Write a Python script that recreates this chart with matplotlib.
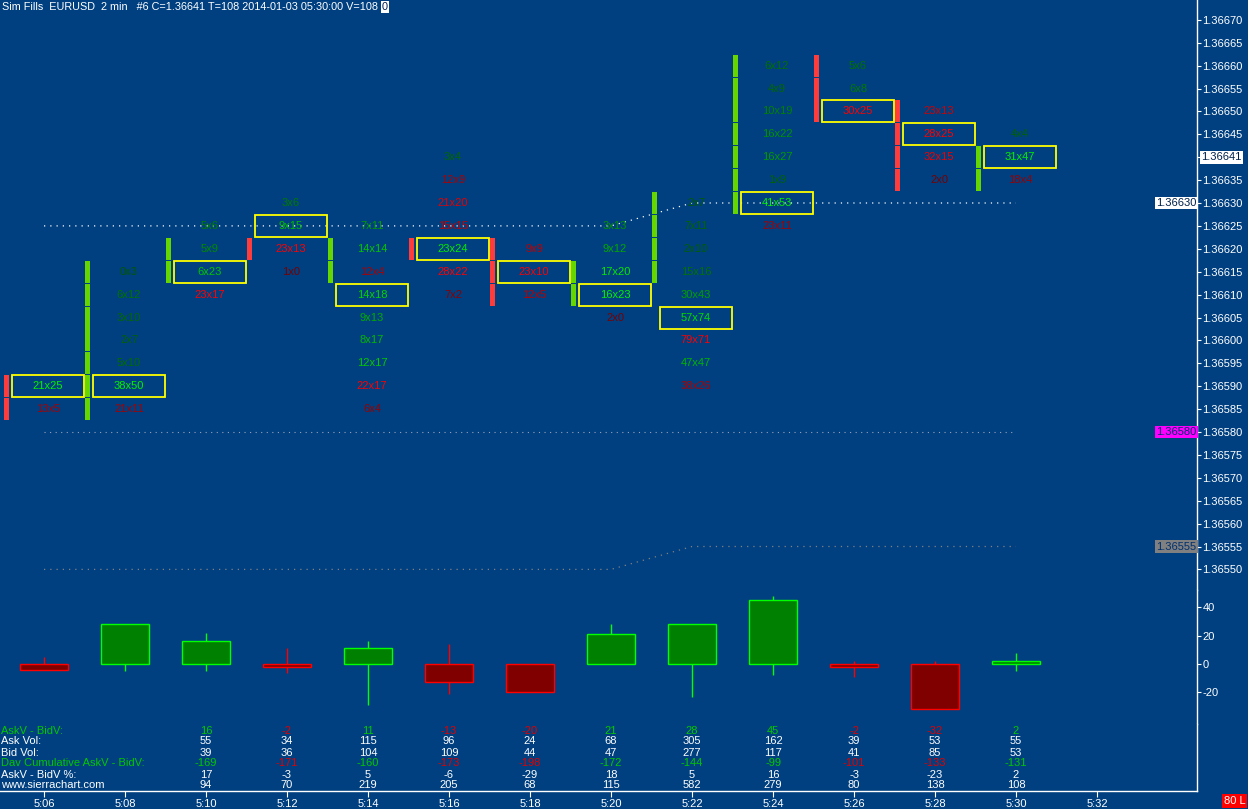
import matplotlib
matplotlib.use('Agg')
import matplotlib.pyplot as plt
from matplotlib.patches import Rectangle
from matplotlib.ticker import FuncFormatter

plt.rcParams['font.family'] = ['Liberation Sans', 'DejaVu Sans']
plt.rcParams['axes.unicode_minus'] = False

BG = '#004080'
W, H = 1248, 809

# ---- data ----
times = ['5:06', '5:08', '5:10', '5:12', '5:14', '5:16', '5:18',
         '5:20', '5:22', '5:24', '5:26', '5:28', '5:30', '5:32']
tick = 0.00005

# footprint: price of the first (top) row, then bid x ask per row going down
fp_top = [1.36590, 1.36615, 1.36625, 1.36630, 1.36625, 1.36640, 1.36620,
          1.36625, 1.36630, 1.36660, 1.36660, 1.36650, 1.36645]
fp_bid = [[21, 13],
          [0, 6, 3, 2, 5, 38, 21],
          [5, 5, 6, 23],
          [3, 9, 23, 1],
          [7, 14, 12, 14, 9, 8, 12, 22, 6],
          [3, 12, 21, 15, 23, 28, 7],
          [9, 23, 12],
          [3, 9, 17, 16, 2],
          [2, 7, 2, 15, 30, 57, 79, 47, 38],
          [6, 4, 10, 16, 16, 1, 41, 23],
          [5, 6, 30],
          [23, 28, 32, 2],
          [4, 31, 18]]
fp_ask = [[25, 5],
          [3, 12, 10, 7, 10, 50, 11],
          [6, 9, 23, 17],
          [6, 15, 13, 0],
          [11, 14, 4, 18, 13, 17, 17, 17, 4],
          [4, 9, 20, 15, 24, 22, 2],
          [9, 10, 5],
          [13, 12, 20, 23, 0],
          [7, 11, 10, 16, 43, 74, 71, 47, 26],
          [12, 9, 19, 22, 27, 9, 53, 11],
          [6, 8, 25],
          [13, 25, 15, 0],
          [4, 47, 4]]
body_hi = [1.36590, 1.36615, 1.36620, 1.36620, 1.36620, 1.36620, 1.36620,
           1.36615, 1.36630, 1.36660, 1.36660, 1.36650, 1.36640]
body_lo = [1.36585, 1.36585, 1.36615, 1.36620, 1.36615, 1.36620, 1.36610,
           1.36610, 1.36615, 1.36630, 1.36650, 1.36635, 1.36635]
body_up = [False, True, True, False, True, False, False,
           True, True, True, False, False, True]

vwap_line = [1.36625, 1.36625, 1.36625, 1.36625, 1.36625, 1.36625, 1.36625,
             1.36625, 1.36630, 1.36630, 1.36630, 1.36630, 1.36630]
mid_line = [1.36580] * 13
low_line = [1.36550, 1.36550, 1.36550, 1.36550, 1.36550, 1.36550, 1.36550,
            1.36550, 1.36555, 1.36555, 1.36555, 1.36555, 1.36555]
last_price = 1.36641

# AskV - BidV bars (open at 0)
dl_close = [-4, 28, 16, -2, 11, -13, -20, 21, 28, 45, -2, -32, 2]
dl_high = [5, 28, 22, 11, 16, 14, 0, 28, 28, 48, 2, 2, 8]
dl_low = [-4, -5, -5, -6, -29, -21, -20, 0, -23, -8, -9, -32, -5]

# table (bars 5:10 .. 5:30)
tab_first = 2
tab_delta = [16, -2, 11, -13, -20, 21, 28, 45, -2, -32, 2]
tab_ask = [55, 34, 115, 96, 24, 68, 305, 162, 39, 53, 55]
tab_bid = [39, 36, 104, 109, 44, 47, 277, 117, 41, 85, 53]
tab_cum = [-169, -171, -160, -173, -198, -172, -144, -99, -101, -133, -131]
tab_pct = [17, -3, 5, -6, -29, 18, 5, 16, -3, -23, 2]
tab_vol = [94, 70, 219, 205, 68, 115, 582, 279, 80, 138, 108]
tab_labels = ['AskV - BidV:', 'Ask Vol:', 'Bid Vol:',
              'Dav Cumulative AskV - BidV:', 'AskV - BidV %:', 'www.sierrachart.com']

# ---- layout (pixels) ----
bar_px = 81.0
x0_px = 44.0
axis_px = 1197
xlim = (-x0_px / bar_px, (axis_px - x0_px) / bar_px)
row_px = 22.9
GREEN_T = '#00c800'
RED_T = '#e00000'


def rect(top, bottom):
    return [0, 1 - bottom / H, axis_px / W, (bottom - top) / H]


def style(ax):
    ax.set_facecolor(BG)
    for s in ax.spines.values():
        s.set_visible(False)
    ax.spines['right'].set_visible(True)
    ax.spines['right'].set_color('white')
    ax.spines['right'].set_linewidth(1.0)
    ax.set_xlim(*xlim)
    ax.yaxis.tick_right()
    ax.tick_params(axis='y', colors='white', length=3, width=0.8, pad=1, labelsize=8)
    ax.tick_params(axis='x', bottom=False, labelbottom=False)


def cell_color(bid, ask, vmax, up):
    f = (bid + ask) / vmax
    d = ask - bid
    if d > 0 or (d == 0 and up):
        return (0, 0.32 + 0.63 * f, 0)
    return (0.45 + 0.55 * f, 0, 0)


fig = plt.figure(figsize=(W / 100, H / 100), dpi=100, facecolor=BG)

# ---- price / footprint panel ----
ax = fig.add_axes(rect(0, 590))
style(ax)
p_ref, y_ref = 1.36630, 203
ax.set_ylim(p_ref - (590 - y_ref) / row_px * tick, p_ref + y_ref / row_px * tick)
pticks = [round(1.36550 + k * tick, 5) for k in range(25)]
ax.set_yticks(pticks)
ax.yaxis.set_major_formatter(FuncFormatter(
    lambda v, pos: '' if abs(v - round(last_price / tick) * tick) < 1e-7 else '%.5f' % v))

seg_h = tick * 22 / row_px
for i in range(len(fp_top)):
    bids, asks = fp_bid[i], fp_ask[i]
    vmax = max(b + a for b, a in zip(bids, asks))
    poc = asks.index(max(asks))
    bcol = '#66d600' if body_up[i] else '#ff3c3c'
    n_seg = int(round((body_hi[i] - body_lo[i]) / tick)) + 1
    for k in range(n_seg):
        p = body_hi[i] - k * tick
        ax.add_patch(Rectangle((i - 40 / bar_px, p - seg_h / 2), 5 / bar_px, seg_h,
                               fc=bcol, ec='none', zorder=3))
    for r, (b, a) in enumerate(zip(bids, asks)):
        p = fp_top[i] - r * tick
        ax.text(i + 4 / bar_px, p, '%dx%d' % (b, a), ha='center', va='center',
                fontsize=8, color=cell_color(b, a, vmax, body_up[i]), zorder=4)
        if r == poc:
            ax.add_patch(Rectangle((i - 32 / bar_px, p - seg_h / 2), 72 / bar_px, seg_h,
                                   fill=False, ec='#ffff00', lw=1.3, zorder=5))

xs = list(range(len(vwap_line)))
ax.plot(xs, vwap_line, color='white', lw=0.9, ls=(0, (1, 4)), zorder=2)
ax.plot(xs, mid_line, color='#9aa0b8', lw=0.8, ls=(0, (1, 4)), zorder=2)
ax.plot(xs, low_line, color='#808080', lw=0.9, ls=(0, (1, 4)), zorder=2)

ytr = ax.get_yaxis_transform()
for val, fc, tc in [(vwap_line[-1], 'white', '#00204a'),
                    (mid_line[-1], '#ff00ff', '#003070'),
                    (low_line[-1], '#808080', '#003070')]:
    ax.text(0.9995, val, '%.5f' % val, transform=ytr, ha='right', va='center',
            fontsize=8, color=tc,
            bbox=dict(boxstyle='square,pad=0.12', fc=fc, ec='none'), zorder=6)
ax.text(1201 / axis_px, round(last_price / tick) * tick, '%.5f' % last_price,
        transform=ytr, ha='left', va='center', fontsize=8, color='#00204a',
        bbox=dict(boxstyle='square,pad=0.12', fc='white', ec='none'),
        clip_on=False, zorder=6)

# ---- AskV - BidV candles ----
axd = fig.add_axes(rect(590, 724))
style(axd)
zero_px, unit_px = 664, 1.42
axd.set_ylim(-(724 - zero_px) / unit_px, (zero_px - 590) / unit_px)
axd.set_yticks([-20, 0, 20, 40])
body_w = 48 / bar_px
for i, (c, hi, lo) in enumerate(zip(dl_close, dl_high, dl_low)):
    up = c >= 0
    ec = '#00ff00' if up else '#ff0000'
    fc = '#008000' if up else '#800000'
    axd.vlines(i, lo, hi, color=ec, lw=1, zorder=2)
    axd.add_patch(Rectangle((i - body_w / 2, 0), body_w, c, fc=fc, ec=ec, lw=1, zorder=3))

# ---- table ----
axt = fig.add_axes(rect(724, 791))
style(axt)
axt.spines['bottom'].set_visible(True)
axt.spines['bottom'].set_color('white')
axt.spines['bottom'].set_linewidth(1.0)
axt.set_ylim(791, 724)
axt.set_yticks([])
axt.set_xticks(range(len(times)))
axt.set_xticklabels(times)
axt.tick_params(axis='x', bottom=True, labelbottom=True, colors='white',
                length=4, width=0.8, pad=2, labelsize=8)

row_y = [730.5 + 11 * k for k in range(6)]
label_cols = [GREEN_T, 'white', 'white', GREEN_T, 'white', 'white']
for k, lab in enumerate(tab_labels):
    axt.text(xlim[0] + 1 / bar_px, row_y[k], lab, ha='left', va='center',
             fontsize=8, color=label_cols[k])
rows = [tab_delta, tab_ask, tab_bid, tab_cum, tab_pct, tab_vol]
for j in range(len(tab_delta)):
    sign_col = GREEN_T if tab_delta[j] >= 0 else RED_T
    for k, vals in enumerate(rows):
        col = sign_col if k in (0, 3) else 'white'
        axt.text(tab_first + j, row_y[k], str(vals[j]), ha='center', va='center',
                 fontsize=8, color=col)

# ---- header and status ----
title = fig.text(2 / W, 1 - 7 / H,
                 'Sim Fills  EURUSD  2 min   #6 C=1.36641 T=108 2014-01-03 05:30:00 V=108',
                 ha='left', va='center', fontsize=7.8, color='white')
fig.canvas.draw()
tb = title.get_window_extent(fig.canvas.get_renderer())
fig.text((tb.x1 + 4) / W, 1 - 7 / H, '0', ha='left', va='center', fontsize=7.8,
         color='#00204a', bbox=dict(boxstyle='square,pad=0.1', fc='white', ec='none'))
fig.text(1224 / W, 1 - 801 / H, '80 L', ha='left', va='center', fontsize=8,
         color='white', bbox=dict(boxstyle='square,pad=0.15', fc='#ff0000', ec='none'))

fig.savefig('out.png', dpi=100, facecolor=BG)
